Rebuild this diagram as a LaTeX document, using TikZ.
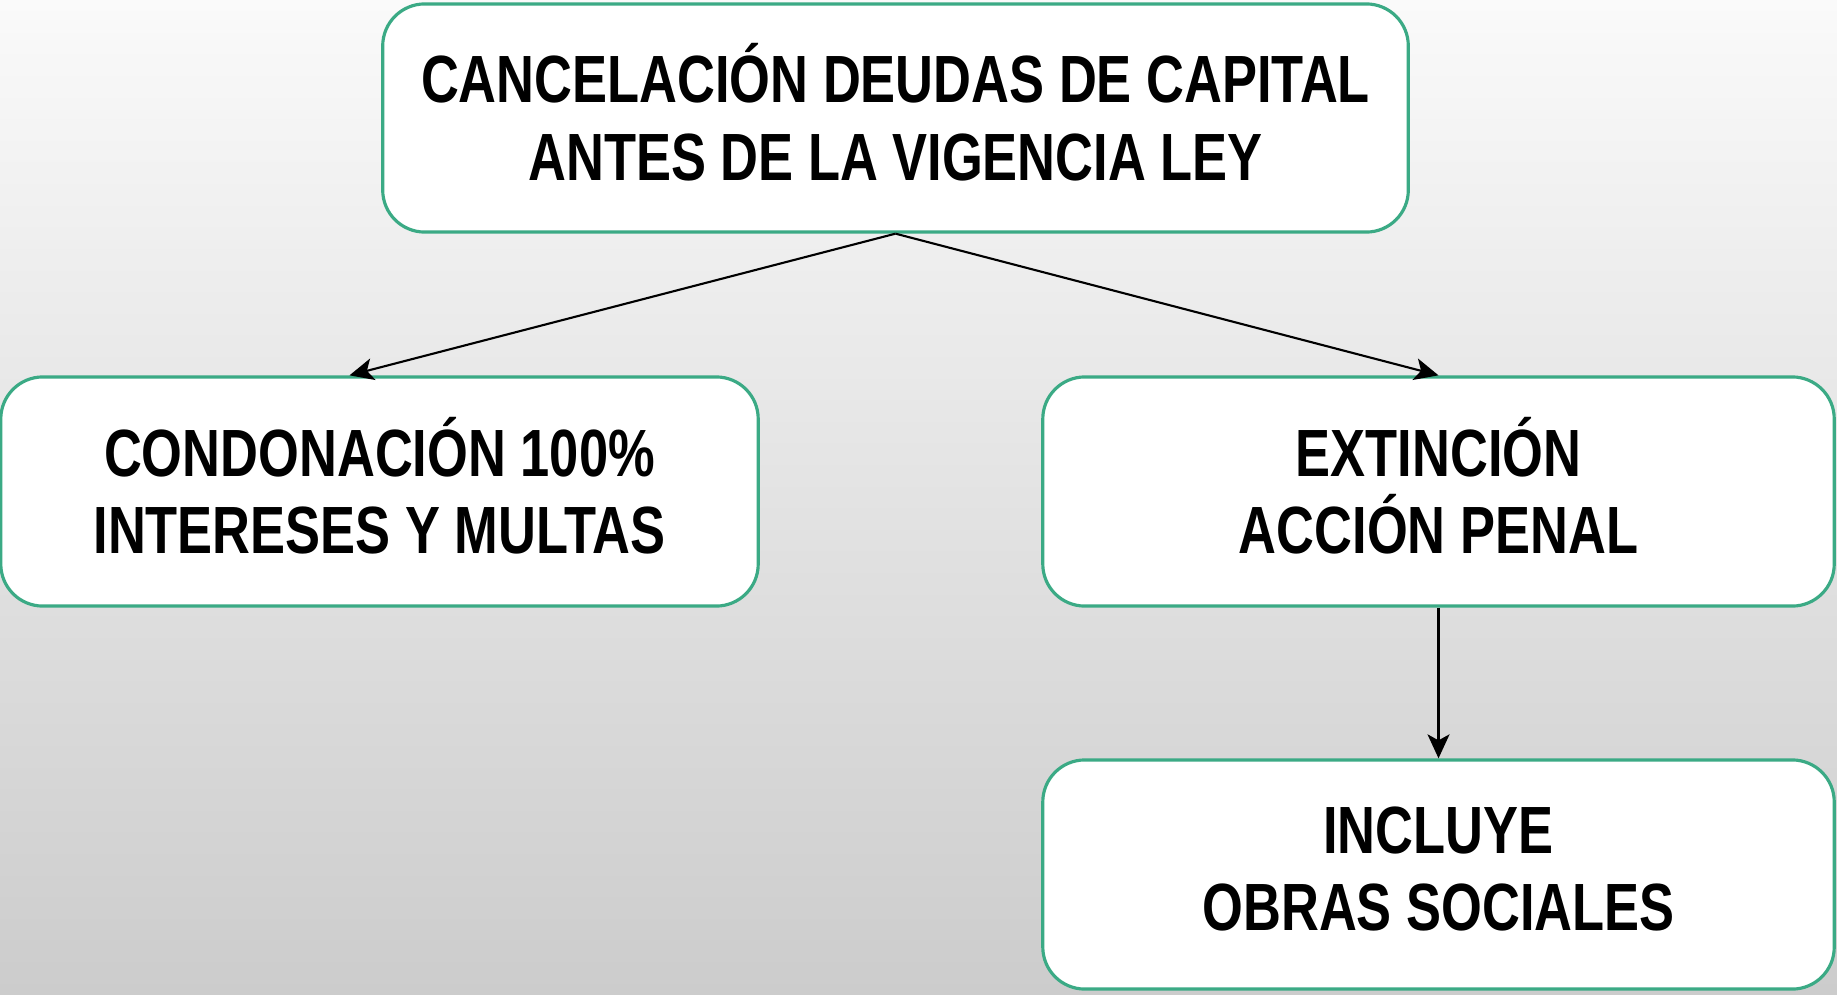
\documentclass[tikz,border=0pt]{standalone}
\usepackage{fontspec}
\setmainfont[FakeStretch=0.785]{Liberation Sans}
\usepackage{xcolor}
\usepackage{tikz}
\usetikzlibrary{arrows.meta,positioning}
\definecolor{boxGreen}{RGB}{59,170,133}
\definecolor{bgTop}{RGB}{250,250,250}
\definecolor{bgBottom}{RGB}{204,204,204}

\begin{document}
\begin{tikzpicture}[
  x=0.01cm, y=-0.01cm,
  block/.style={draw=boxGreen, line width=0.9pt, fill=white, rounded corners=0.42cm, align=center,
    font=\fontsize{19}{22}\selectfont\bfseries, inner sep=0pt, text depth=0.12cm},
  arrow/.style={-{Stealth[length=2.4mm, width=2.2mm, inset=0.6mm]}, line width=0.6pt}
]
  \shade[top color=bgTop, bottom color=bgBottom] (0,0) rectangle (1837,994);
  \useasboundingbox (0,0) rectangle (1837,994);
  \node[block, minimum width=10.25cm, minimum height=2.28cm] (cancel) at (895.5,118)
    {CANCELACIÓN DEUDAS DE CAPITAL\\ANTES DE LA VIGENCIA LEY};
  \node[block, minimum width=7.57cm, minimum height=2.29cm] (cond) at (379.5,491.5)
    {CONDONACIÓN 100\%\\INTERESES Y MULTAS};
  \node[block, minimum width=7.91cm, minimum height=2.29cm] (ext) at (1438.5,491.5)
    {EXTINCIÓN\\ACCIÓN PENAL};
  \node[block, minimum width=7.91cm, minimum height=2.29cm] (obras) at (1438.5,874.5)
    {INCLUYE\\OBRAS SOCIALES};
  \draw[arrow] (cancel.south) -- ([xshift=-0.3cm]cond.north);
  \draw[arrow] (cancel.south) -- (ext.north);
  \draw[arrow] (ext.south) -- (obras.north);
\end{tikzpicture}
\end{document}
